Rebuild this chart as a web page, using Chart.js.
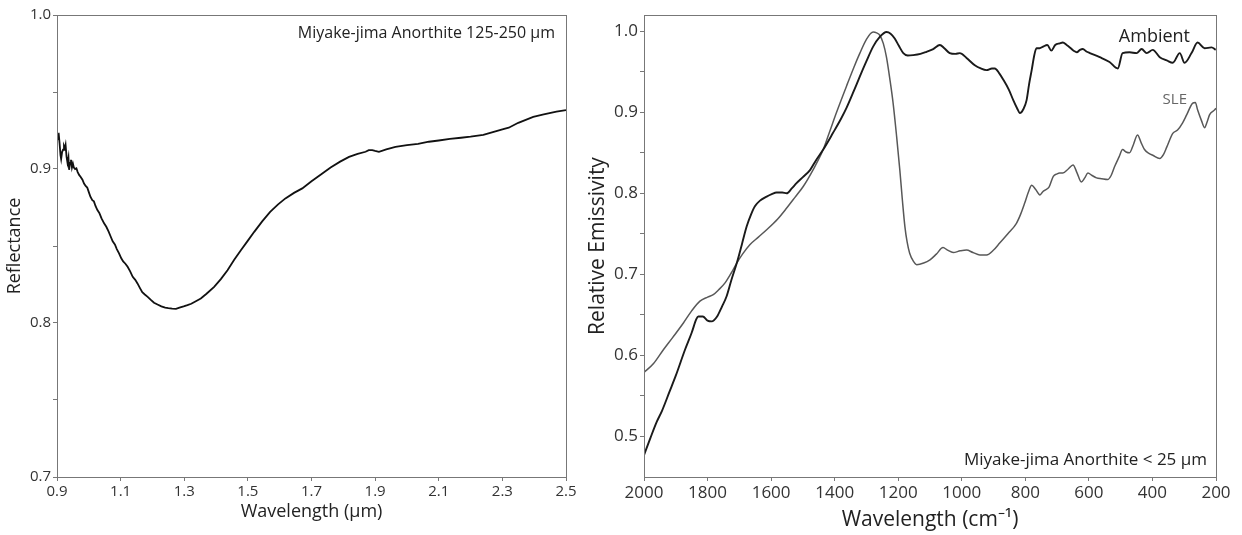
<!DOCTYPE html>
<html lang="en">
<head>
  <meta charset="UTF-8">
  <title>Miyake-jima Anorthite spectra</title>
  <script src="https://cdn.jsdelivr.net/npm/chart.js"></script>
  <style>
    body { margin: 0; background: #fff; }
    .panel { position: absolute; top: 0; }
  </style>
</head>
<body>
  <div class="panel" style="left:0"><canvas id="reflChart" width="585" height="535"></canvas></div>
  <div class="panel" style="left:585px"><canvas id="emisChart" width="657" height="535"></canvas></div>

  <script>
    // left panel: VNIR reflectance, 125-250 um fraction
    const reflWavelength = [
      0.900, 0.903, 0.906, 0.908, 0.911, 0.913, 0.916, 0.919, 0.922, 0.925, 0.927, 0.930, 0.933, 0.936, 0.938,
      0.941, 0.944, 0.947, 0.950, 0.953, 0.957, 0.961, 0.965, 0.970, 0.974, 0.980, 0.985, 0.990, 0.995, 1.000,
      1.005, 1.011, 1.016, 1.021, 1.027, 1.033, 1.040, 1.048, 1.055, 1.062, 1.069, 1.075, 1.082, 1.088, 1.095,
      1.102, 1.108, 1.115, 1.122, 1.130, 1.138, 1.146, 1.153, 1.160, 1.168, 1.176, 1.185, 1.195, 1.205, 1.216,
      1.228, 1.240, 1.250, 1.262, 1.274, 1.285, 1.298, 1.310, 1.322, 1.335, 1.352, 1.370, 1.394, 1.415, 1.436,
      1.457, 1.478, 1.500, 1.520, 1.545, 1.570, 1.595, 1.618, 1.645, 1.671, 1.700, 1.734, 1.760, 1.790, 1.818,
      1.845, 1.870, 1.880, 1.891, 1.900, 1.912, 1.935, 1.964, 2.000, 2.035, 2.069, 2.100, 2.135, 2.170, 2.200,
      2.240, 2.270, 2.300, 2.320, 2.350, 2.397, 2.430, 2.470, 2.500
    ];
    const reflValues = [
      0.9235, 0.9200, 0.9215, 0.9170, 0.9090, 0.9065, 0.9110, 0.9125, 0.9150, 0.9135, 0.9155, 0.9080, 0.9040, 0.9075, 0.8995,
      0.9040, 0.9060, 0.9010, 0.9035, 0.9010, 0.9000, 0.9005, 0.8980, 0.8960, 0.8950, 0.8930, 0.8905, 0.8890, 0.8880, 0.8850,
      0.8820, 0.8798, 0.8790, 0.8760, 0.8733, 0.8715, 0.8680, 0.8647, 0.8625, 0.8595, 0.8560, 0.8530, 0.8510, 0.8480, 0.8452,
      0.8420, 0.8400, 0.8385, 0.8365, 0.8335, 0.8300, 0.8280, 0.8257, 0.8230, 0.8200, 0.8185, 0.8170, 0.8150, 0.8132, 0.8120,
      0.8108, 0.8100, 0.8097, 0.8094, 0.8092, 0.8100, 0.8108, 0.8116, 0.8125, 0.8140, 0.8159, 0.8190, 0.8235, 0.8285, 0.8343,
      0.8410, 0.8473, 0.8535, 0.8592, 0.8660, 0.8722, 0.8770, 0.8809, 0.8845, 0.8874, 0.8920, 0.8971, 0.9010, 0.9048, 0.9079,
      0.9098, 0.9112, 0.9122, 0.9123, 0.9118, 0.9112, 0.9128, 0.9144, 0.9155, 0.9163, 0.9177, 0.9185, 0.9195, 0.9203, 0.9210,
      0.9222, 0.9240, 0.9258, 0.9268, 0.9300, 0.9339, 0.9355, 0.9372, 0.9383
    ];
    const reflXTicks = [0.9, 1.1, 1.3, 1.5, 1.7, 1.9, 2.1, 2.3, 2.5];
    const reflYTicks = [0.7, 0.75, 0.8, 0.85, 0.9, 0.95, 1.0];
    const reflYLabels = [0.7, 0.8, 0.9, 1.0];

    // right panel: TIR emissivity, < 25 um fraction
    const ambientWavenumber = [
      2000, 1980, 1960, 1943, 1920, 1900, 1871, 1850, 1835, 1829, 1815, 1800, 1787, 1770, 1755, 1740, 1725, 1708,
      1692, 1677, 1663, 1651, 1635, 1614, 1598, 1583, 1565, 1551, 1535, 1520, 1500, 1477, 1460, 1436, 1406, 1380,
      1362, 1340, 1321, 1300, 1279, 1258, 1237, 1224, 1211, 1198, 1184, 1170, 1153, 1130, 1111, 1090, 1069, 1055,
      1038, 1020, 1006, 985, 959, 940, 922, 905, 896, 882, 869, 852, 838, 826, 817, 806, 796, 788, 780, 772, 765,
      755, 744, 731, 718, 706, 692, 682, 670, 660, 648, 638, 628, 619, 608, 597, 566, 535, 509, 494, 472, 450, 434,
      418, 399, 377, 355, 336, 314, 299, 277, 258, 236, 214, 201
    ];
    const ambientEmissivity = [
      0.477, 0.498, 0.518, 0.532, 0.555, 0.575, 0.607, 0.628, 0.645, 0.648, 0.648, 0.643, 0.642, 0.648, 0.660, 0.673, 0.693, 0.714,
      0.737, 0.759, 0.774, 0.784, 0.791, 0.796, 0.799, 0.801, 0.801, 0.800, 0.806, 0.8125, 0.820, 0.829, 0.840, 0.854, 0.874, 0.892,
      0.906, 0.926, 0.944, 0.963, 0.981, 0.993, 0.999, 0.997, 0.991, 0.982, 0.973, 0.970, 0.9705, 0.972, 0.9746, 0.978, 0.983, 0.979,
      0.973, 0.972, 0.973, 0.967, 0.958, 0.954, 0.952, 0.954, 0.954, 0.948, 0.940, 0.928, 0.915, 0.905, 0.899, 0.904, 0.915, 0.935, 0.952, 0.970, 0.979,
      0.979, 0.981, 0.983, 0.976, 0.983, 0.985, 0.986, 0.983, 0.980, 0.976, 0.974, 0.977, 0.978, 0.975, 0.973, 0.968, 0.962, 0.954, 0.973, 0.974, 0.973, 0.978,
      0.973, 0.977, 0.968, 0.964, 0.961, 0.973, 0.961, 0.973, 0.986, 0.979, 0.980, 0.977
    ];
    const sleWavenumber = [
      2000, 1970, 1939, 1910, 1876, 1850, 1824, 1800, 1782, 1765, 1745, 1725, 1708, 1690, 1667, 1640, 1614, 1580,
      1551, 1525, 1499, 1468, 1436, 1415, 1394, 1360, 1340, 1321, 1300, 1279, 1268, 1258, 1247, 1237, 1226, 1216,
      1205, 1195, 1187, 1179, 1172, 1164, 1152, 1142, 1120, 1100, 1080, 1059, 1045, 1027, 1005, 985, 965, 943, 922,
      900, 880, 855, 828, 815, 802, 790, 780, 768, 754, 745, 738, 725, 712, 700, 692, 682, 665, 650, 637, 624, 613,
      603, 590, 576, 560, 541, 530, 519, 505, 494, 483, 472, 460, 447, 435, 425, 410, 399, 377, 365, 355, 336, 321,
      305, 292, 274, 265, 258, 246, 236, 228, 220, 204, 200
    ];
    const sleEmissivity = [
      0.579, 0.590, 0.607, 0.622, 0.640, 0.655, 0.667, 0.672, 0.675, 0.681, 0.6895, 0.702, 0.714, 0.725, 0.7366, 0.746, 0.755, 0.768,
      0.7818, 0.795, 0.8084, 0.829, 0.854, 0.877, 0.900, 0.935, 0.955, 0.9726, 0.990, 0.999, 0.998, 0.995, 0.985, 0.968, 0.940, 0.911,
      0.870, 0.829, 0.792, 0.759, 0.740, 0.726, 0.716, 0.712, 0.714, 0.718, 0.725, 0.733, 0.730, 0.727, 0.729, 0.730, 0.727, 0.724, 0.724,
      0.730, 0.739, 0.750, 0.763, 0.774, 0.788, 0.802, 0.810, 0.805, 0.798, 0.802, 0.804, 0.808, 0.821, 0.824, 0.825, 0.825, 0.830, 0.835, 0.825, 0.814, 0.819,
      0.825, 0.822, 0.819, 0.818, 0.817, 0.822, 0.833, 0.845, 0.854, 0.851, 0.850, 0.860, 0.872, 0.862, 0.854, 0.849, 0.847, 0.843, 0.848, 0.857, 0.874, 0.878,
      0.887, 0.897, 0.911, 0.912, 0.903, 0.890, 0.881, 0.888, 0.897, 0.903, 0.905
    ];
    const emisXTicks = [2000, 1800, 1600, 1400, 1200, 1000, 800, 600, 400, 200];
    const emisYTicks = [0.5, 0.55, 0.6, 0.65, 0.7, 0.75, 0.8, 0.85, 0.9, 0.95, 1.0];
    const emisYLabels = [0.5, 0.6, 0.7, 0.8, 0.9, 1.0];

    Chart.defaults.font.family = "'Open Sans', sans-serif";
    Chart.defaults.color = '#333';

    const toPoints = (xs, ys) => xs.map((x, i) => ({ x: x, y: ys[i] }));
    const hasValue = (list, v) => list.some(t => Math.abs(t - v) < 1e-6);

    // box around the plot area + free text labels
    const framePlugin = {
      id: 'frame',
      afterDraw(chart, args, opts) {
        const { ctx, chartArea: a } = chart;
        ctx.save();
        ctx.strokeStyle = '#777';
        ctx.lineWidth = 1;
        ctx.strokeRect(a.left + 0.5, a.top + 0.5, a.right - a.left, a.bottom - a.top);
        (opts.labels || []).forEach(l => {
          ctx.font = l.size + "px 'Open Sans', sans-serif";
          ctx.fillStyle = l.color || '#222';
          ctx.textAlign = 'right';
          ctx.textBaseline = 'middle';
          const x = a.right - l.fromRight;
          const y = l.fromTop != null ? a.top + l.fromTop : a.bottom - l.fromBottom;
          ctx.fillText(l.text, x, y);
        });
        ctx.restore();
      }
    };

    function axisGrid() {
      return { display: true, drawOnChartArea: false, drawTicks: true, tickLength: 4, color: '#777' };
    }

    new Chart(document.getElementById('reflChart'), {
      type: 'line',
      data: {
        datasets: [{
          data: toPoints(reflWavelength, reflValues),
          borderColor: '#111',
          borderWidth: 1.8,
          pointRadius: 0,
          tension: 0
        }]
      },
      options: {
        responsive: false,
        animation: false,
        layout: { padding: { left: 0, right: 19, top: 15, bottom: 0 } },
        plugins: {
          legend: { display: false },
          tooltip: { enabled: false },
          frame: { labels: [{ text: 'Miyake-jima Anorthite 125-250 μm', size: 16, fromRight: 11, fromTop: 18 }] }
        },
        scales: {
          x: {
            type: 'linear', min: 0.9, max: 2.5,
            afterBuildTicks: s => { s.ticks = reflXTicks.map(v => ({ value: v })); },
            afterFit: s => { s.height = 58; },
            grid: axisGrid(),
            border: { display: true, color: '#777' },
            ticks: { font: { size: 15 }, padding: 2, maxRotation: 0, callback: v => v.toFixed(1) },
            title: { display: true, text: 'Wavelength (μm)', font: { size: 18 }, color: '#222', padding: { top: 0, bottom: 12 } }
          },
          y: {
            min: 0.7, max: 1.0,
            afterBuildTicks: s => { s.ticks = reflYTicks.map(v => ({ value: v })); },
            afterFit: s => { s.width = 57; },
            grid: axisGrid(),
            border: { display: true, color: '#777' },
            ticks: { font: { size: 15 }, padding: 2, callback: v => hasValue(reflYLabels, v) ? v.toFixed(1) : '' },
            title: { display: true, text: 'Reflectance', font: { size: 18 }, color: '#222', padding: { top: 4, bottom: 0 } }
          }
        }
      },
      plugins: [framePlugin]
    });

    new Chart(document.getElementById('emisChart'), {
      type: 'line',
      data: {
        datasets: [
          {
            label: 'Ambient',
            data: toPoints(ambientWavenumber, ambientEmissivity),
            borderColor: '#1a1a1a',
            borderWidth: 1.9,
            pointRadius: 0,
            cubicInterpolationMode: 'monotone'
          },
          {
            label: 'SLE',
            data: toPoints(sleWavenumber, sleEmissivity),
            borderColor: '#585858',
            borderWidth: 1.5,
            pointRadius: 0,
            cubicInterpolationMode: 'monotone'
          }
        ]
      },
      options: {
        responsive: false,
        animation: false,
        layout: { padding: { left: 0, right: 26, top: 15, bottom: 0 } },
        plugins: {
          legend: { display: false },
          tooltip: { enabled: false },
          frame: {
            labels: [
              { text: 'Ambient', size: 18, fromRight: 26, fromTop: 22 },
              { text: 'SLE', size: 15, color: '#666', fromRight: 29, fromTop: 85 },
              { text: 'Miyake-jima Anorthite < 25 μm', size: 17, fromRight: 9, fromBottom: 17 }
            ]
          }
        },
        scales: {
          x: {
            type: 'linear', min: 200, max: 2000, reverse: true,
            afterBuildTicks: s => { s.ticks = emisXTicks.map(v => ({ value: v })); },
            afterFit: s => { s.height = 58; },
            grid: axisGrid(),
            border: { display: true, color: '#777' },
            ticks: { font: { size: 17 }, padding: 2, maxRotation: 0, callback: v => String(v) },
            title: { display: true, text: 'Wavelength (cm⁻¹)', font: { size: 21 }, color: '#222', padding: { top: 0, bottom: 2 } }
          },
          y: {
            min: 0.45, max: 1.02,
            afterBuildTicks: s => { s.ticks = emisYTicks.map(v => ({ value: v })); },
            afterFit: s => { s.width = 59; },
            grid: axisGrid(),
            border: { display: true, color: '#777' },
            ticks: { font: { size: 17 }, padding: 2, callback: v => hasValue(emisYLabels, v) ? v.toFixed(1) : '' },
            title: { display: true, text: 'Relative Emissivity', font: { size: 21 }, color: '#222', padding: { top: 0, bottom: 0 } }
          }
        }
      },
      plugins: [framePlugin]
    });
  </script>
</body>
</html>
